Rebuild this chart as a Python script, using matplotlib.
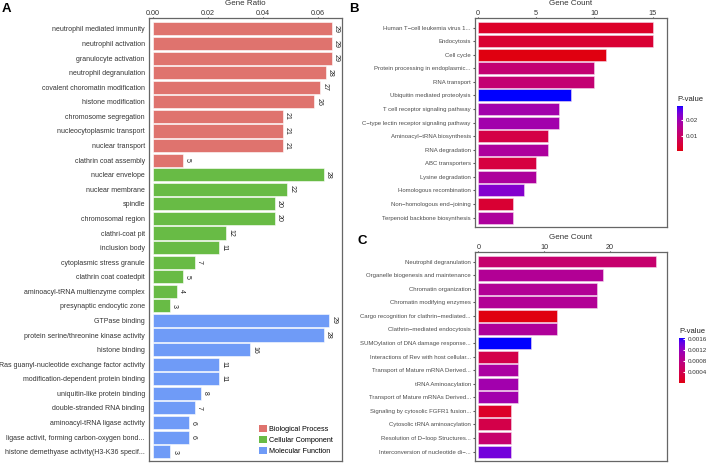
import numpy as np
import matplotlib
matplotlib.use("Agg")
import matplotlib.pyplot as plt
from matplotlib.colors import ListedColormap, Normalize, to_rgb
from matplotlib.cm import ScalarMappable
from matplotlib.patches import Patch

plt.rcParams["font.family"] = ["Liberation Sans", "DejaVu Sans"]

W, H = 708, 463

# ---------------- panel A: GO terms ----------------
bp_terms = ["neutrophil mediated immunity", "neutrophil activation", "granulocyte activation",
            "neutrophil degranulation", "covalent choromatin modification", "histone modification",
            "chromosome segregation", "nucleocytoplasmic transport", "nuclear transport",
            "clathrin coat assembly"]
bp_counts = [29, 29, 29, 28, 27, 26, 21, 21, 21, 5]
bp_ratio = [0.0651, 0.0651, 0.0651, 0.0629, 0.0609, 0.0587, 0.0473, 0.0473, 0.0473, 0.0111]

cc_terms = ["nuclear envelope", "nuclear membrane", "spindle", "chromosomal region",
            "clathri-coat pit", "inclusion body", "cytoplasmic stress granule",
            "clathrin coat coatedpit", "aminoacyl-tRNA multienzyme complex",
            "presynaptic endocytic zone"]
cc_counts = [28, 22, 20, 20, 12, 11, 7, 5, 4, 3]
cc_ratio = [0.0621, 0.0489, 0.0444, 0.0444, 0.0267, 0.0242, 0.0153, 0.0110, 0.0088, 0.0063]

mf_terms = ["GTPase binding", "protein serine/threonine kinase activity", "histone binding",
            "Ras guanyl-nucleotide exchange factor activity", "modification-dependent protein binding",
            "uniquitin-like protein binding", "double-stranded RNA binding",
            "aminoacyl-tRNA ligase activity", "ligase activit, forming carbon-oxygen bond...",
            "histone demethyase activity(H3-K36 specif..."]
mf_counts = [29, 28, 16, 11, 11, 8, 7, 6, 6, 3]
mf_ratio = [0.0641, 0.0621, 0.0354, 0.0242, 0.0242, 0.0176, 0.0154, 0.0132, 0.0132, 0.0065]

go_colors = {"Biological Process": "#df736e", "Cellular Component": "#68bb45",
             "Molecular Function": "#6f9bf7"}

# ---------------- panel B: KEGG ----------------
kegg_terms = ["Human T\u2212cell leukemia virus 1...", "Endocytosis", "Cell cycle",
              "Protein processing in endoplasmic...", "RNA transport",
              "Ubiquitin mediated proteolysis", "T cell receptor signaling pathway",
              "C\u2212type lectin receptor signaling pathway", "Aminoacyl\u2212tRNA biosynthesis",
              "RNA degradation", "ABC transporters", "Lysine degradation",
              "Homologous recombination", "Non\u2212homologous end\u2212joining",
              "Terpenoid backbone biosynthesis"]
kegg_counts = [15, 15, 11, 10, 10, 8, 7, 7, 6, 6, 5, 5, 4, 3, 3]
kegg_p = [0.0027, 0.0038, 0.0004, 0.0118, 0.0118, 0.0288, 0.0190, 0.0190, 0.0060,
          0.0170, 0.0055, 0.0170, 0.0230, 0.0038, 0.0170]

# ---------------- panel C: Reactome ----------------
react_terms = ["Neutrophil degranulation", "Organelle biogenesis and maintenance",
               "Chromatin organization", "Chromatin modifying enzymes",
               "Cargo recognition for clathrin\u2212mediated...", "Clathrin\u2212mediated endocytosis",
               "SUMOylation of DNA damage response...", "Interactions of Rev with host cellular...",
               "Transport of Mature mRNA Derived...", "tRNA Aminoacylation",
               "Transport of Mature mRNAs Derived...", "Signaling by cytosolic FGFR1 fusion...",
               "Cytosolic tRNA aminoacylation", "Resolution of D\u2212loop Structures...",
               "Interconversion of nucleotide di\u2212..."]
react_counts = [27, 19, 18, 18, 12, 12, 8, 6, 6, 6, 6, 5, 5, 5, 5]
react_p = [0.00062, 0.00090, 0.00090, 0.00090, 0.00001, 0.00093, 0.00162, 0.00036,
           0.00098, 0.00107, 0.00107, 0.00014, 0.00036, 0.00062, 0.00138]


# red -> blue gradient interpolated in Lab, like ggplot's scale_fill_gradient
M = np.array([[0.4124, 0.3576, 0.1805], [0.2126, 0.7152, 0.0722], [0.0193, 0.1192, 0.9505]])
WP = np.array([0.95047, 1.0, 1.08883])


def to_lab(c):
    c = np.asarray(to_rgb(c))
    lin = np.where(c <= 0.04045, c / 12.92, ((c + 0.055) / 1.055) ** 2.4)
    xyz = M @ lin / WP
    f = np.where(xyz > 0.008856, np.cbrt(xyz), 7.787 * xyz + 16 / 116)
    return np.array([116 * f[1] - 16, 500 * (f[0] - f[1]), 200 * (f[1] - f[2])])


def from_lab(lab):
    fy = (lab[0] + 16) / 116
    f = np.array([fy + lab[1] / 500, fy, fy - lab[2] / 200])
    xyz = np.where(f ** 3 > 0.008856, f ** 3, (f - 16 / 116) / 7.787) * WP
    lin = np.clip(np.linalg.solve(M, xyz), 0, 1)
    return np.clip(np.where(lin <= 0.0031308, 12.92 * lin, 1.055 * lin ** (1 / 2.4) - 0.055), 0, 1)


lo, hi = to_lab("#e00010"), to_lab("#0000ff")
cmap = ListedColormap([from_lab(lo + (hi - lo) * t) for t in np.linspace(0, 1, 256)])


def px_axes(fig, left, top, right, bottom):
    return fig.add_axes([left / W, 1 - bottom / H, (right - left) / W, (bottom - top) / H])


def frame(ax):
    for s in ax.spines.values():
        s.set_color("#666666")
        s.set_linewidth(0.9)


def top_title(text, left, right, top):
    # axis title drawn above the top tick labels
    fig.text((left + right) / 2 / W, 1 - top / H, text, fontsize=5.75, ha="center", va="top",
             color="#333333")


fig = plt.figure(figsize=(W / 100, H / 100), dpi=100)

# ---- A
axA = px_axes(fig, 149, 18, 342, 461)
terms = bp_terms + cc_terms + mf_terms
counts = bp_counts + cc_counts + mf_counts
ratios = bp_ratio + cc_ratio + mf_ratio
cols = ([go_colors["Biological Process"]] * len(bp_terms) +
        [go_colors["Cellular Component"]] * len(cc_terms) +
        [go_colors["Molecular Function"]] * len(mf_terms))
ypos = np.arange(len(terms))
axA.barh(ypos, ratios, height=0.9, color=cols, edgecolor="white", linewidth=0.4)
for y, r, c in zip(ypos, ratios, counts):
    axA.text(r + 0.0003, y, str(c), rotation=-90, ha="left", va="center", fontsize=5, color="#222222")
axA.set_ylim(len(terms) - 1 + 0.64, -0.75)
axA.set_xlim(-0.00127, 0.0687)
axA.set_yticks(ypos)
axA.set_yticklabels(terms, fontsize=5, color="#333333")
axA.xaxis.tick_top()
axA.set_xticks([0, 0.02, 0.04, 0.06])
axA.set_xticklabels(["0.00", "0.02", "0.04", "0.06"])
axA.tick_params(axis="x", labelsize=5.2, length=1, pad=0, colors="#333333")
axA.tick_params(axis="y", length=0, pad=3)
top_title("Gene Ratio", 149, 342, 0.3)
frame(axA)
handles = [Patch(facecolor=v, edgecolor="none", label=k) for k, v in go_colors.items()]
axA.legend(handles=handles, loc="lower right", bbox_to_anchor=(0.985, 0.0), fontsize=5.2,
           frameon=False, handlelength=1.1, handleheight=1.1, handletextpad=0.4,
           labelspacing=0.45, borderpad=0.3)
fig.text(2 / W, 1 - 3 / H, "A", fontsize=9.5, fontweight="bold", va="top", ha="left")


def count_panel(ax, labels, cnt, pv, xlim, xticks, vmin, vmax):
    norm = Normalize(vmin, vmax)
    y = np.arange(len(labels))
    ax.barh(y, cnt, height=0.88, color=cmap(norm(np.array(pv))), edgecolor="#f4d8ee", linewidth=0.4)
    ax.set_ylim(len(labels) - 1 + 0.69, -0.7)
    ax.set_xlim(*xlim)
    ax.set_yticks(y)
    ax.set_yticklabels(labels, fontsize=4.3, color="#4d4d4d")
    ax.xaxis.tick_top()
    ax.set_xticks(xticks)
    ax.tick_params(axis="x", labelsize=5.2, length=1, pad=0, colors="#333333")
    ax.tick_params(axis="y", length=1.5, pad=1.5, color="#555555")
    frame(ax)
    return norm


def colorbar(left, top, right, bottom, norm, ticks, labels):
    cax = px_axes(fig, left, top, right, bottom)
    cb = fig.colorbar(ScalarMappable(norm=norm, cmap=cmap), cax=cax)
    cb.outline.set_visible(False)
    cb.set_ticks(ticks)
    cb.set_ticklabels(labels)
    cax.tick_params(labelsize=4.5, length=1.5, color="white", direction="in", pad=2,
                    labelcolor="#333333")
    fig.text(left / W, 1 - (top - 3) / H, "P-value", fontsize=5.5, ha="left", va="bottom",
             color="#222222")


# ---- B
axB = px_axes(fig, 475, 18, 667, 227)
normB = count_panel(axB, kegg_terms, kegg_counts, kegg_p, (-0.23, 16.22), [0, 5, 10, 15],
                    min(kegg_p), max(kegg_p))
top_title("Gene Count", 475, 667, 0.3)
colorbar(677, 106, 683, 151, normB, [0.01, 0.02], ["0.01", "0.02"])
fig.text(349 / W, 1 - 3 / H, "B", fontsize=9.5, fontweight="bold", va="top", ha="left")

# ---- C
axC = px_axes(fig, 475, 252, 667, 461)
normC = count_panel(axC, react_terms, react_counts, react_p, (-0.51, 28.7), [0, 10, 20],
                    min(react_p), max(react_p))
top_title("Gene Count", 475, 667, 234.3)
colorbar(679, 338, 685, 383, normC, [0.0004, 0.0008, 0.0012, 0.0016],
         ["0.0004", "0.0008", "0.0012", "0.0016"])
fig.text(358 / W, 1 - 235 / H, "C", fontsize=9.5, fontweight="bold", va="top", ha="left")

fig.savefig("out.png", dpi=100)
